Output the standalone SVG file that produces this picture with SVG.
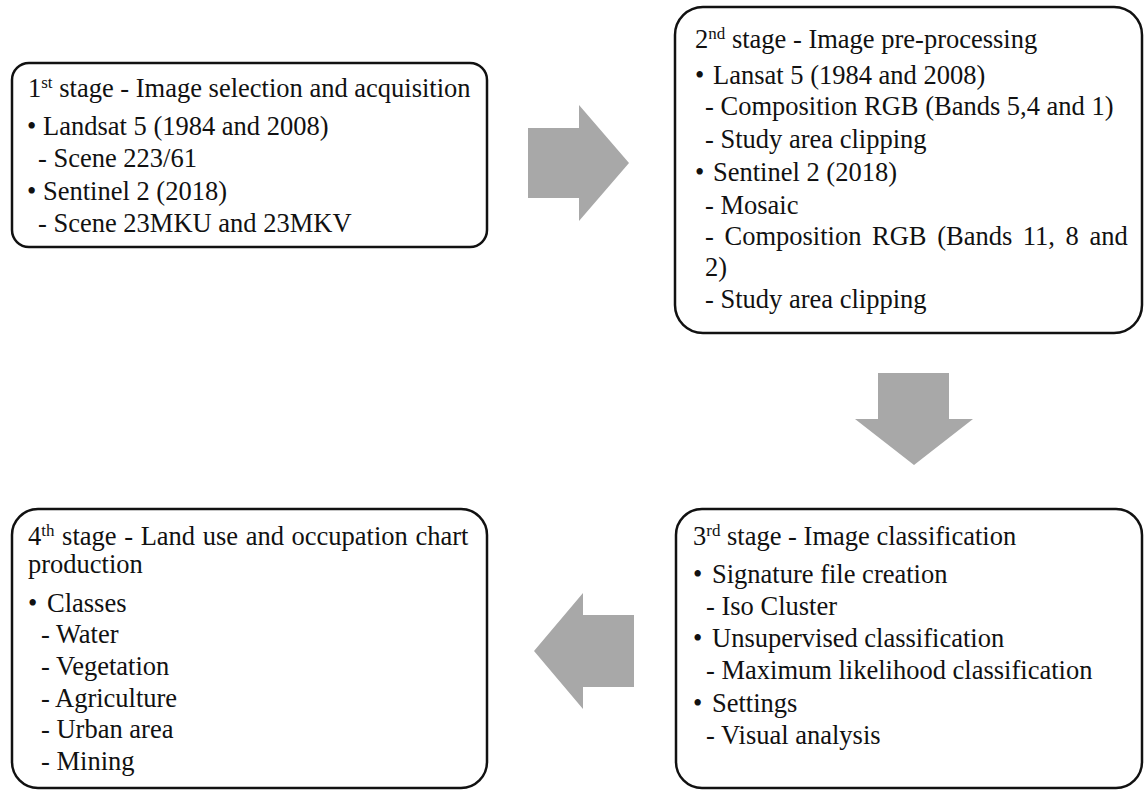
<svg xmlns="http://www.w3.org/2000/svg" width="1144" height="790" viewBox="0 0 1144 790">
<style>
.box{fill:#fff;stroke:#111;stroke-width:2.5}
.t{font-family:"Liberation Serif","Times New Roman",serif;font-size:26.5px;fill:#111}
.sup{font-size:17px}
.arr{fill:#a8a8a8}
</style>
<rect width="1144" height="790" fill="#fff"/>
<g id="connectors">
<polygon class="arr" points="528,128 579,128 579,105 629,163 579,221 579,198 528,198"/>
<polygon class="arr" points="878,373 949,373 949,419 973,419 914,465 855,419 878,419"/>
<polygon class="arr" points="634,615 583,615 583,593 534,651 583,709 583,687 634,687"/>
</g>
<g id="stage1">
<rect class="box" x="12" y="63" width="475" height="184" rx="17"/>
<text class="t" x="28" y="97">1<tspan class="sup" dy="-9">st</tspan><tspan dy="9"> stage - Image selection and acquisition</tspan></text>
<text class="t" y="135"><tspan x="27">•</tspan><tspan x="43">Landsat 5 (1984 and 2008)</tspan></text>
<text class="t" x="38" y="167">- Scene 223/61</text>
<text class="t" y="200"><tspan x="27">•</tspan><tspan x="43">Sentinel 2 (2018)</tspan></text>
<text class="t" x="38" y="232">- Scene 23MKU and 23MKV</text>
</g>
<g id="stage2">
<rect class="box" x="675" y="7" width="467" height="326" rx="28"/>
<text class="t" x="695" y="48">2<tspan class="sup" dy="-9">nd</tspan><tspan dy="9"> stage - Image pre-processing</tspan></text>
<text class="t" y="84"><tspan x="695">•</tspan><tspan x="713">Lansat 5 (1984 and 2008)</tspan></text>
<text class="t" x="705" y="115">- Composition RGB (Bands 5,4 and 1)</text>
<text class="t" x="705" y="148">- Study area clipping</text>
<text class="t" y="181"><tspan x="695">•</tspan><tspan x="713">Sentinel 2 (2018)</tspan></text>
<text class="t" x="705" y="214">- Mosaic</text>
<text class="t" x="705" y="245" word-spacing="4">- Composition RGB (Bands 11, 8 and</text>
<text class="t" x="705" y="276">2)</text>
<text class="t" x="705" y="308">- Study area clipping</text>
</g>
<g id="stage3">
<rect class="box" x="676" y="509" width="466" height="279" rx="26"/>
<text class="t" x="693" y="545">3<tspan class="sup" dy="-9">rd</tspan><tspan dy="9"> stage - Image  classification</tspan></text>
<text class="t" y="583"><tspan x="693">•</tspan><tspan x="712">Signature file creation</tspan></text>
<text class="t" x="706" y="615">- Iso Cluster</text>
<text class="t" y="647"><tspan x="693">•</tspan><tspan x="712">Unsupervised classification</tspan></text>
<text class="t" x="706" y="679">- Maximum likelihood classification</text>
<text class="t" y="712"><tspan x="693">•</tspan><tspan x="712">Settings</tspan></text>
<text class="t" x="706" y="744">- Visual analysis</text>
</g>
<g id="stage4">
<rect class="box" x="12" y="509" width="475" height="279" rx="26"/>
<text class="t" x="28" y="545" word-spacing="1">4<tspan class="sup" dy="-9">th</tspan><tspan dy="9"> stage - Land use and occupation chart</tspan></text>
<text class="t" x="28" y="573">production</text>
<text class="t" y="612"><tspan x="28">•</tspan><tspan x="47">Classes</tspan></text>
<text class="t" x="41" y="643">- Water</text>
<text class="t" x="41" y="675">- Vegetation</text>
<text class="t" x="41" y="707">- Agriculture</text>
<text class="t" x="41" y="738">- Urban area</text>
<text class="t" x="41" y="770">- Mining</text>
</g>
</svg>
